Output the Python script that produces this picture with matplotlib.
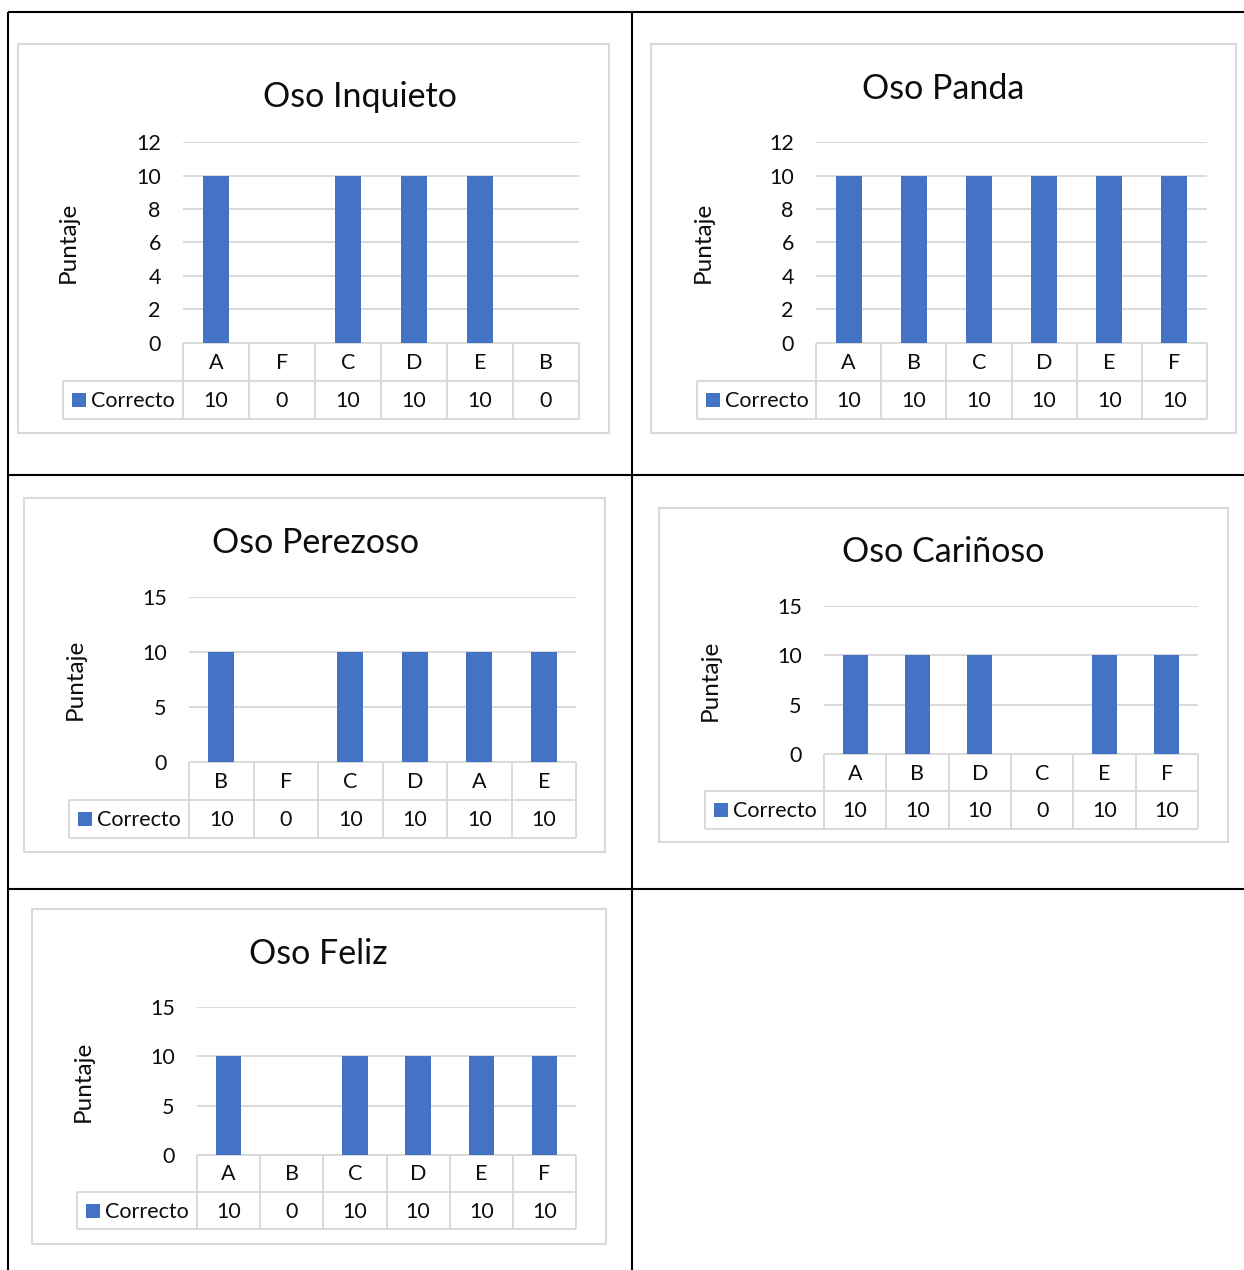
import matplotlib
matplotlib.use("Agg")
import matplotlib.pyplot as plt
from matplotlib.patches import Rectangle

plt.rcParams['font.family'] = ['Lato', 'DejaVu Sans']

W, H = 1244, 1270
DPI = 100

# ---- data ----
series_name = "Correcto"
y_label = "Puntaje"

inquieto_cats = ["A", "F", "C", "D", "E", "B"]
inquieto_vals = [10, 0, 10, 10, 10, 0]

panda_cats = ["A", "B", "C", "D", "E", "F"]
panda_vals = [10, 10, 10, 10, 10, 10]

perezoso_cats = ["B", "F", "C", "D", "A", "E"]
perezoso_vals = [10, 0, 10, 10, 10, 10]

carinoso_cats = ["A", "B", "D", "C", "E", "F"]
carinoso_vals = [10, 10, 10, 0, 10, 10]

feliz_cats = ["A", "B", "C", "D", "E", "F"]
feliz_vals = [10, 0, 10, 10, 10, 10]

# ---- layout (pixels) ----
charts = [
    dict(title="Oso Inquieto", cats=inquieto_cats, vals=inquieto_vals,
         frame=(18, 44, 609, 433), tpos=(360, 97),
         plot=(183, 579, 142, 343), rows=(381, 419), leg=63, ylx=68,
         ymax=12, step=2),
    dict(title="Oso Panda", cats=panda_cats, vals=panda_vals,
         frame=(651, 44, 1236, 433), tpos=(943, 89),
         plot=(816, 1207, 142, 343), rows=(381, 419), leg=697, ylx=703,
         ymax=12, step=2),
    dict(title="Oso Perezoso", cats=perezoso_cats, vals=perezoso_vals,
         frame=(24, 498, 605, 852), tpos=(315, 543),
         plot=(189, 576, 597, 762), rows=(800, 838), leg=69, ylx=75,
         ymax=15, step=5),
    dict(title="Oso Cariñoso", cats=carinoso_cats, vals=carinoso_vals,
         frame=(659, 508, 1228, 842), tpos=(943, 552),
         plot=(824, 1198, 606, 754), rows=(791, 829), leg=705, ylx=710,
         ymax=15, step=5),
    dict(title="Oso Feliz", cats=feliz_cats, vals=feliz_vals,
         frame=(32, 909, 606, 1244), tpos=(318, 954),
         plot=(197, 576, 1007, 1155), rows=(1192, 1229), leg=77, ylx=83,
         ymax=15, step=5),
]

BAR = "#4472C4"
GRID = "#D9D9D9"
TXT = "#0d0d0d"
FS_TITLE = 24.5
FS_YLAB = 17.5
FS_TICK = 15.5
FS_TABLE = 15.5

fig = plt.figure(figsize=(W / DPI, H / DPI), dpi=DPI)
fig.patch.set_facecolor("white")

# overlay in pixel coordinates for the page, frames and data tables
page = fig.add_axes([0, 0, 1, 1])
page.set_xlim(0, W)
page.set_ylim(H, 0)
page.axis("off")
page.set_zorder(0)

# document table borders
blk = dict(color="black", lw=1.5, solid_capstyle="butt")
page.plot([8, W], [12, 12], **blk)
page.plot([8, W], [475, 475], **blk)
page.plot([8, W], [889, 889], **blk)
page.plot([8, 8], [12, H], **blk)
page.plot([632, 632], [12, H], **blk)

gl = dict(color=GRID, lw=1.4, solid_capstyle="butt")

for c in charts:
    fx0, fy0, fx1, fy1 = c["frame"]
    page.add_patch(Rectangle((fx0, fy0), fx1 - fx0, fy1 - fy0,
                             fill=False, ec=GRID, lw=1.5))
    page.text(c["tpos"][0], c["tpos"][1], c["title"], ha="center", va="center",
              fontsize=FS_TITLE, color=TXT)

    px0, px1, ptop, pbase = c["plot"]
    r1, r2 = c["rows"]

    # bar plot area
    ax = fig.add_axes([px0 / W, 1 - pbase / H, (px1 - px0) / W, (pbase - ptop) / H])
    ax.set_zorder(2)
    ax.patch.set_alpha(0)
    n = len(c["cats"])
    ax.bar(range(n), c["vals"], width=0.4, color=BAR, zorder=3)
    ax.set_xlim(-0.5, n - 0.5)
    ax.set_ylim(0, c["ymax"])
    ticks = list(range(0, c["ymax"] + 1, c["step"]))
    ax.set_yticks(ticks)
    ax.set_yticklabels([str(t) for t in ticks], fontsize=FS_TICK, color=TXT)
    ax.tick_params(axis="y", length=0, pad=16)
    ax.set_xticks([])
    for s in ax.spines.values():
        s.set_visible(False)
    ax.yaxis.grid(True, color=GRID, lw=1.4, zorder=0)
    ax.set_axisbelow(True)

    # y axis title
    page.text(c["ylx"], (ptop + pbase) / 2, y_label, rotation=90,
              ha="center", va="center", fontsize=FS_YLAB, color=TXT)

    # data table grid
    cw = (px1 - px0) / n
    page.plot([px0, px1], [pbase, pbase], **gl)
    page.plot([c["leg"], px1], [r1, r1], **gl)
    page.plot([c["leg"], px1], [r2, r2], **gl)
    page.plot([c["leg"], c["leg"]], [r1, r2], **gl)
    for i in range(n + 1):
        x = px0 + i * cw
        page.plot([x, x], [pbase, r2], **gl)
    for i, (cat, v) in enumerate(zip(c["cats"], c["vals"])):
        cx = px0 + (i + 0.5) * cw
        page.text(cx, (pbase + r1) / 2 + 1, cat, ha="center", va="center",
                  fontsize=FS_TABLE, color=TXT)
        page.text(cx, (r1 + r2) / 2 + 1, str(v), ha="center", va="center",
                  fontsize=FS_TABLE, color=TXT)
    # legend key
    ym = (r1 + r2) / 2
    page.add_patch(Rectangle((c["leg"] + 9, ym - 7), 14, 14, color=BAR, lw=0))
    page.text(c["leg"] + 28, ym + 1, series_name, ha="left", va="center",
              fontsize=FS_TABLE, color=TXT)

fig.savefig("out.png", dpi=DPI, facecolor="white")
